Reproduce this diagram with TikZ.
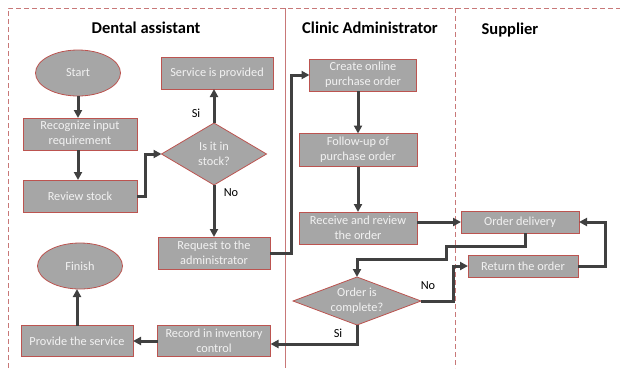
\documentclass[tikz,border=0pt]{standalone}
\usepackage{fontspec}
\setmainfont{Carlito}
\usetikzlibrary{shapes.geometric, arrows.meta, calc}
\newcommand{\arrowTip}{{Triangle[length=8pt, width=8pt]}}
\newcommand{\lineWidth}{3pt}
\newcommand{\boxHeight}{32pt}
\newcommand{\boxFont}{\fontsize{12.3}{15}\selectfont}
\newcommand{\titleFont}{\bfseries\fontsize{16.5}{18}\selectfont}
\definecolor{lineColor}{RGB}{64,64,64}
\definecolor{boxGray}{RGB}{166,166,166}
\definecolor{boxRed}{RGB}{188,84,80}
\definecolor{boxText}{RGB}{242,242,242}
\definecolor{laneRed}{RGB}{200,120,120}
\tikzstyle{panel}=[draw=boxRed, fill=boxGray, line width=0.8pt, text=boxText, font=\boxFont, align=center, inner sep=0, outer sep=0]
\tikzstyle{box}=[panel, rectangle, minimum height=\boxHeight]
\tikzstyle{terminal}=[panel, ellipse, minimum width=85pt, minimum height=46pt]
\tikzstyle{decision}=[panel, diamond]
\tikzstyle{line}=[draw=lineColor, line width=\lineWidth]
\tikzstyle{arrow}=[line, -\arrowTip]
\tikzstyle{lane}=[draw=laneRed, line width=0.8pt]
\tikzstyle{laneDash}=[lane, dash pattern=on 5pt off 3pt]
\tikzstyle{title}=[draw=none, inner sep=0, font=\titleFont]
\tikzstyle{answer}=[draw=none, inner sep=0, font=\boxFont, text=black]

\begin{document}
\begin{tikzpicture}[x=1pt, y=-1pt]

\useasboundingbox (0,0) rectangle (620,368);

% Lanes
\draw[laneDash] (8,368) -- (8,8) -- (620,8);
\draw[lane] (285,8) -- (285,368);
\draw[laneDash] (455,8) -- (455,368);

% Titles
\node[title] (titleDental) at (146,28) {Dental assistant};
\node[title] (titleClinic) at (370,28) {Clinic Administrator};
\node[title] (titleSupplier) at (510,30) {Supplier};

% Dental assistant
\node[terminal] (start) at (78,73) {Start};
\node[box, minimum width=114pt] (recognize) at (80,134) {Recognize input\\requirement};
\node[box, minimum width=114pt] (review) at (80,196) {Review stock};
\node[box, minimum width=112pt] (provided) at (217,73) {Service is provided};
\node[decision, minimum width=105pt, minimum height=62pt, aspect=1.7] (stockQ) at (214,154) {Is it in\\stock?};
\node[box, minimum width=112pt] (request) at (214,253) {Request to the\\administrator};
\node[box, minimum width=113pt, minimum height=31pt] (record) at (214,341) {Record in inventory\\control};
\node[box, minimum width=112pt, minimum height=31pt] (provide) at (77,341) {Provide the service};
\node[terminal] (finish) at (80,266) {Finish};

% Clinic Administrator
\node[box, minimum width=107pt] (create) at (363,75) {Create online\\purchase order};
\node[box, minimum width=118pt, minimum height=33pt] (followUp) at (358,150) {Follow-up of\\purchase order};
\node[box, minimum width=118pt] (receive) at (358,228) {Receive and review\\the order};
\node[decision, minimum width=128pt, minimum height=48pt, aspect=2.7] (orderQ) at (357,301) {Order is\\complete?};

% Supplier
\node[box, minimum width=118pt, minimum height=22pt] (delivery) at (520,222) {Order delivery};
\node[box, minimum width=110pt, minimum height=22pt] (returnOrder) at (523,266) {Return the order};

% Connectors
\draw[arrow] (start.south) -- (start.south |- recognize.north);
\draw[arrow] (start.south |- recognize.south) -- (start.south |- review.north);
\draw[arrow] (review.east) -- ++(8,0) |- (stockQ.west);
\draw[arrow] (stockQ.north) -- (stockQ.north |- provided.south);
\draw[arrow] (stockQ.south) -- (request.north);
\draw[arrow] (request.east) -- ++(21,0) |- (create.west);
\draw[arrow] (followUp.north |- create.south) -- (followUp.north);
\draw[arrow] (followUp.south) -- (receive.north);
\draw[arrow] (receive.east |- delivery.west) -- (delivery.west);
\draw[arrow] ([xshift=5pt]delivery.south) -- ++(0,13) -- ++(-79,0) -- ++(0,13) -| (orderQ.north);
\draw[arrow] (orderQ.east) -- ++(32,0) |- (returnOrder.west);
\draw[arrow] (returnOrder.east) -- ++(27,0) |- (delivery.east);
\draw[arrow] (orderQ.south) |- ([yshift=-3pt]record.east);
\draw[arrow] (record.west) -- (provide.east);
\draw[arrow] (provide.north) -- (provide.north |- finish.south);

% Answers
\node[answer] (siStock) at (196,113) {Si};
\node[answer] (noStock) at (231,193) {No};
\node[answer] (noOrder) at (428,286) {No};
\node[answer] (siOrder) at (338,333) {Si};

\end{tikzpicture}
\end{document}
